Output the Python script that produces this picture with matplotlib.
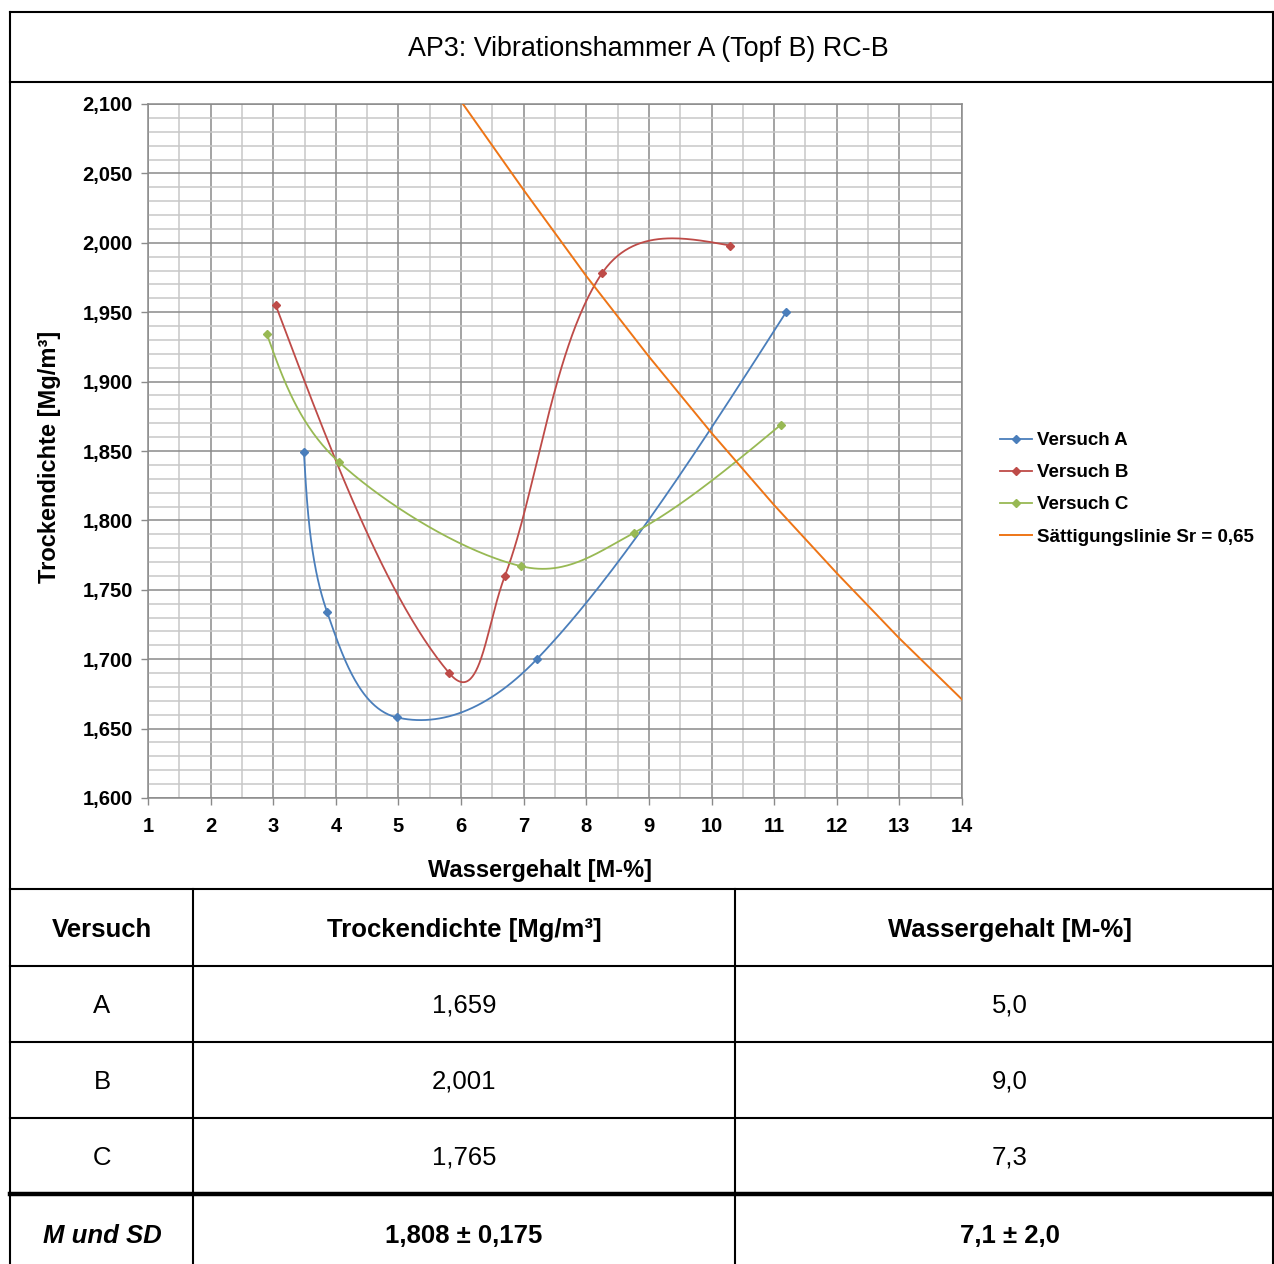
import numpy as np
import matplotlib
matplotlib.use("Agg")
import matplotlib.pyplot as plt
from matplotlib.lines import Line2D
from matplotlib.ticker import MultipleLocator, FuncFormatter

plt.rcParams['font.family'] = ['Liberation Sans', 'DejaVu Sans']

# ------------------------------------------------------------
# Data
# ------------------------------------------------------------

wA = [3.49, 3.86, 4.98, 7.21, 11.19]
rA = [1.849, 1.734, 1.658, 1.700, 1.950]

wB = [3.04, 5.81, 6.70, 8.25, 10.30]
rB = [1.955, 1.690, 1.760, 1.978, 1.998]

wC = [2.90, 4.05, 6.96, 8.76, 11.11]
rC = [1.934, 1.842, 1.767, 1.791, 1.869]

# Saettigungslinie Sr = 0,65
wS = [6.03, 7.0, 8.0, 9.0, 10.0, 11.0, 12.0, 13.0, 14.0]
rS = [2.100, 2.038, 1.976, 1.918, 1.863, 1.811, 1.762, 1.715, 1.671]

series_names = ['Versuch A', 'Versuch B', 'Versuch C', 'Sättigungslinie Sr = 0,65']
colors = ['#4A7EBB', '#BE4B48', '#98B954', '#EE7516']

title = 'AP3: Vibrationshammer A (Topf B) RC-B'

table_header = ['Versuch', 'Trockendichte [Mg/m³]', 'Wassergehalt [M-%]']
table_rows = [
    ['A', '1,659', '5,0'],
    ['B', '2,001', '9,0'],
    ['C', '1,765', '7,3'],
]
table_summary = ['M und SD', '1,808 ± 0,175', '7,1 ± 2,0']

# ------------------------------------------------------------
# Helpers
# ------------------------------------------------------------

W, H = 1274, 1264


def fx(px):
    return px / W


def fy(py):
    return 1 - py / H


def unit(v):
    n = np.hypot(v[0], v[1])
    return v / n if n > 0 else v


def smooth(ax, xs, ys, n=60):
    # Excel-like smoothed line: cubic Bezier segments, built in display space
    P = ax.transData.transform(np.column_stack([xs, ys]))
    m = len(P)
    segs = []
    for i in range(m - 1):
        p1, p2 = P[i], P[i + 1]
        L = np.hypot(*(p2 - p1))
        c1 = c2 = None
        if i > 0:
            t1 = P[i + 1] - P[i - 1]
            arm = 0.5 * (np.hypot(*t1) / 6 + L / 3)
            c1 = p1 + unit(t1) * arm
        if i + 2 < m:
            t2 = P[i + 2] - P[i]
            arm = 0.5 * (np.hypot(*t2) / 6 + L / 3)
            c2 = p2 - unit(t2) * arm
        if c1 is None and c2 is None:
            c1 = p1 + (p2 - p1) / 3
            c2 = p2 - (p2 - p1) / 3
        elif c1 is None:
            c1 = (p1 + c2) / 2
        elif c2 is None:
            c2 = (p2 + c1) / 2
        t = np.linspace(0, 1, n)[:, None]
        seg = ((1 - t) ** 3) * p1 + 3 * ((1 - t) ** 2) * t * c1 \
            + 3 * (1 - t) * t ** 2 * c2 + t ** 3 * p2
        segs.append(seg)
    pts = ax.transData.inverted().transform(np.vstack(segs))
    return pts[:, 0], pts[:, 1]


# ------------------------------------------------------------
# Figure
# ------------------------------------------------------------

fig = plt.figure(figsize=(W / 100, H / 100), dpi=100)

ax = fig.add_axes([fx(148), fy(798), fx(962) - fx(148), fy(104) - fy(798)])

ax.set_xlim(1, 14)
ax.set_ylim(1.6, 2.1)

ax.xaxis.set_major_locator(MultipleLocator(1))
ax.xaxis.set_minor_locator(MultipleLocator(0.5))
ax.yaxis.set_major_locator(MultipleLocator(0.05))
ax.yaxis.set_minor_locator(MultipleLocator(0.01))

ax.yaxis.set_major_formatter(FuncFormatter(lambda v, p: f'{v:.3f}'.replace('.', ',')))
ax.xaxis.set_major_formatter(FuncFormatter(lambda v, p: f'{v:.0f}'))

ax.grid(True, which='major', color='#8a8a8a', linewidth=1.1)
ax.grid(True, which='minor', color='#c8c8c8', linewidth=1.1)
ax.set_axisbelow(True)

for s in ax.spines.values():
    s.set_color('#8a8a8a')
    s.set_linewidth(1.1)

ax.tick_params(which='major', length=5, width=1, color='#8a8a8a',
               labelsize=14.5, pad=6)
ax.tick_params(axis='x', which='major', pad=9)
ax.tick_params(which='minor', length=0)
for lab in ax.get_xticklabels() + ax.get_yticklabels():
    lab.set_fontweight('bold')

# Curves

for xs, ys, c in zip([wA, wB, wC], [rA, rB, rC], colors[:3]):
    sx, sy = smooth(ax, xs, ys)
    ax.plot(sx, sy, color=c, linewidth=1.3, zorder=3)
    ax.plot(xs, ys, linestyle='none', marker='D', markersize=4.5,
            color=c, zorder=4)

ax.plot(wS, rS, color=colors[3], linewidth=1.4, zorder=3)

# Axis labels

ax.set_xlabel('Wassergehalt [M-%]', fontsize=17, fontweight='bold')
ax.xaxis.set_label_coords((540 - 148) / 814, (798 - 871) / 694)
ax.xaxis.label.set_va('center')

ax.set_ylabel('Trockendichte [Mg/m³]', fontsize=17, fontweight='bold')
ax.yaxis.set_label_coords((49 - 148) / 814, (798 - 457) / 694)
ax.yaxis.label.set_va('center')

# Legend

handles = [Line2D([], [], color=c, marker='D', markersize=4, linewidth=1.3)
           for c in colors[:3]]
handles.append(Line2D([], [], color=colors[3], linewidth=1.4))

fig.legend(handles, series_names, loc='upper left',
           bbox_to_anchor=(fx(1000), fy(432)), frameon=False,
           prop={'weight': 'bold', 'size': 13.5}, handlelength=1.7,
           handletextpad=0.27, labelspacing=0.8, borderpad=0,
           borderaxespad=0)

# Title

fig.text(fx(648), fy(49), title, ha='center', va='center', fontsize=19.4)

# ------------------------------------------------------------
# Frame lines and table
# ------------------------------------------------------------

lw = 1.5


def hline(py, x0, x1, width=lw):
    fig.add_artist(Line2D([fx(x0), fx(x1)], [fy(py), fy(py)],
                          color='black', linewidth=width,
                          transform=fig.transFigure))


def vline(px, y0, y1, width=lw):
    fig.add_artist(Line2D([fx(px), fx(px)], [fy(y0), fy(y1)],
                          color='black', linewidth=width,
                          transform=fig.transFigure))


hline(12, 10, 1274)
hline(82, 10, 1274)
hline(889, 10, 1274)
hline(966, 10, 1274)
hline(1042, 10, 1274)
hline(1118, 10, 1274)
hline(1194, 10, 1274, width=3.2)

vline(10, 12, 1264)
vline(1273, 12, 1264)
vline(193, 889, 1264)
vline(735, 889, 1264)

col_x = [102, 464, 1010]
row_y = [1006, 1082, 1158]

for x, txt in zip(col_x, table_header):
    fig.text(fx(x), fy(930), txt, ha='center', va='center',
             fontsize=18.5, fontweight='bold')

for y, row in zip(row_y, table_rows):
    for x, txt in zip(col_x, row):
        fig.text(fx(x), fy(y), txt, ha='center', va='center', fontsize=18.5)

for i, (x, txt) in enumerate(zip(col_x, table_summary)):
    fig.text(fx(x), fy(1236), txt, ha='center', va='center',
             fontsize=18.5, fontweight='bold',
             fontstyle='italic' if i == 0 else 'normal')

fig.savefig('out.png', dpi=100)
